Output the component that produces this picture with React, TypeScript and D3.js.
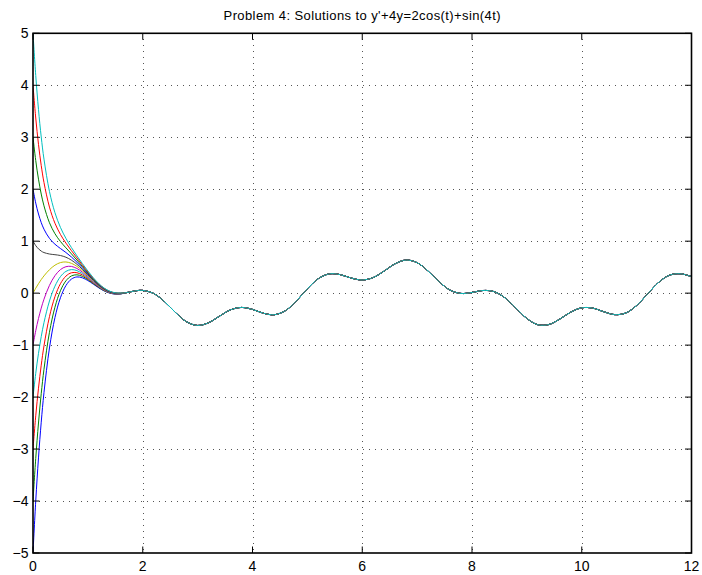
import React from "react";
import * as d3 from "d3";

const TITLE = "Problem 4: Solutions to y'+4y=2cos(t)+sin(4t)";
const X_TICKS = [0, 2, 4, 6, 8, 10, 12];
const Y_TICKS = [-5, -4, -3, -2, -1, 0, 1, 2, 3, 4, 5];
const INITIAL_VALUES = [-5, -4, -3, -2, -1, 0, 1, 2, 3, 4, 5];
const COLORS = ["#0000ff", "#008000", "#ff0000", "#00bfbf", "#bf00bf", "#bfbf00", "#404040"];

// time samples of the transient part (curves differ here)
const T_HEAD = [0, 0.05, 0.1, 0.15, 0.2, 0.3, 0.4, 0.5, 0.6, 0.7, 0.8, 0.9, 1.0, 1.1, 1.2, 1.3, 1.4, 1.5, 1.6];
const HEAD_M5 = [-5, -3.998, -3.17, -2.483, -1.915, -1.055, -0.471, -0.088, 0.146, 0.27, 0.312, 0.295, 0.242, 0.172, 0.101, 0.041, 0.0, -0.018, -0.015];
const HEAD_M4 = [-4, -3.18, -2.499, -1.935, -1.465, -0.753, -0.27, 0.047, 0.237, 0.331, 0.353, 0.323, 0.261, 0.184, 0.109, 0.046, 0.004, -0.015, -0.013];
const HEAD_M3 = [-3, -2.361, -1.829, -1.386, -1.016, -0.452, -0.068, 0.182, 0.328, 0.392, 0.393, 0.35, 0.279, 0.197, 0.117, 0.052, 0.008, -0.013, -0.011];
const HEAD_M2 = [-2, -1.542, -1.159, -0.837, -0.567, -0.151, 0.134, 0.318, 0.419, 0.453, 0.434, 0.377, 0.297, 0.209, 0.125, 0.057, 0.011, -0.01, -0.01];
const HEAD_M1 = [-1, -0.723, -0.488, -0.288, -0.117, 0.15, 0.336, 0.453, 0.509, 0.514, 0.475, 0.405, 0.316, 0.221, 0.134, 0.063, 0.015, -0.008, -0.008];
const HEAD_0 = [0, 0.095, 0.182, 0.261, 0.332, 0.451, 0.538, 0.588, 0.6, 0.574, 0.516, 0.432, 0.334, 0.234, 0.142, 0.068, 0.019, -0.005, -0.006];
const HEAD_P1 = [1, 0.914, 0.852, 0.809, 0.781, 0.753, 0.74, 0.724, 0.691, 0.635, 0.556, 0.459, 0.352, 0.246, 0.15, 0.074, 0.022, -0.003, -0.005];
const HEAD_P2 = [2, 1.733, 1.523, 1.358, 1.231, 1.054, 0.942, 0.859, 0.782, 0.696, 0.597, 0.487, 0.371, 0.258, 0.158, 0.079, 0.026, 0.0, -0.003];
const HEAD_P3 = [3, 2.551, 2.193, 1.907, 1.68, 1.355, 1.144, 0.994, 0.872, 0.757, 0.638, 0.514, 0.389, 0.27, 0.167, 0.085, 0.03, 0.002, -0.001];
const HEAD_P4 = [4, 3.37, 2.863, 2.456, 2.129, 1.656, 1.346, 1.13, 0.963, 0.818, 0.679, 0.541, 0.407, 0.283, 0.175, 0.09, 0.034, 0.005, 0.0];
const HEAD_P5 = [5, 4.189, 3.533, 3.005, 2.579, 1.957, 1.548, 1.265, 1.054, 0.878, 0.719, 0.569, 0.426, 0.295, 0.183, 0.096, 0.037, 0.007, 0.002];

// shared steady part (all curves coincide here)
const T_TAIL = [1.7, 1.8, 1.9, 2.0, 2.2, 2.4, 2.6, 2.8, 3.0, 3.2, 3.4, 3.6, 3.8, 4.0, 4.2, 4.4, 4.6, 4.8, 5.0, 5.2, 5.4, 5.6, 5.8, 6.0, 6.2, 6.4, 6.6, 6.8, 7.0, 7.2, 7.4, 7.6, 7.8, 8.0, 8.2, 8.4, 8.6, 8.8, 9.0, 9.2, 9.4, 9.6, 9.8, 10.0, 10.2, 10.4, 10.6, 10.8, 11.0, 11.2, 11.4, 11.6, 11.8, 12.0];
const Y_TAIL = [0.009, 0.031, 0.049, 0.053, -0.007, -0.166, -0.376, -0.552, -0.622, -0.569, -0.442, -0.321, -0.275, -0.313, -0.387, -0.415, -0.337, -0.151, 0.084, 0.279, 0.371, 0.356, 0.29, 0.253, 0.3, 0.426, 0.566, 0.637, 0.586, 0.425, 0.221, 0.058, -0.006, 0.013, 0.051, 0.03, -0.09, -0.288, -0.488, -0.608, -0.604, -0.499, -0.365, -0.282, -0.288, -0.357, -0.413, -0.383, -0.238, -0.015, 0.206, 0.346, 0.373, 0.318];

const HEADS = [HEAD_M5, HEAD_M4, HEAD_M3, HEAD_M2, HEAD_M1, HEAD_0, HEAD_P1, HEAD_P2, HEAD_P3, HEAD_P4, HEAD_P5];

const W = 702;
const H = 575;
const L = 33;
const R = 691.5;
const TOP = 33.3;
const BOT = 553;

export default function App() {
  const x = d3.scaleLinear().domain([0, 12]).range([L, R]);
  const y = d3.scaleLinear().domain([-5, 5]).range([BOT, TOP]);
  const line = d3
    .line<[number, number]>()
    .x((d) => x(d[0]))
    .y((d) => y(d[1]))
    .curve(d3.curveCatmullRom.alpha(0.5));

  const series = INITIAL_VALUES.map((v, k) => {
    const pts: [number, number][] = T_HEAD.map((t, i) => [t, HEADS[k][i]] as [number, number]).concat(
      T_TAIL.map((t, i) => [t, Y_TAIL[i]] as [number, number])
    );
    return { v, pts, color: COLORS[k % COLORS.length] };
  });

  const tickLen = 6.5;
  const font = "'Liberation Sans', Arial, Helvetica, sans-serif";

  return (
    <div style={{ position: "absolute", left: 0, top: 0 }}>
      <svg width={W} height={H} style={{ display: "block", background: "#fff" }}>
        <defs>
          <clipPath id="plotclip">
            <rect x={L} y={TOP} width={R - L} height={BOT - TOP} />
          </clipPath>
        </defs>
        <rect x={0} y={0} width={W} height={H} fill="#fff" />
        {/* grid */}
        <g stroke="#555" strokeWidth={1} strokeDasharray="1,5" shapeRendering="crispEdges">
          {X_TICKS.filter((t) => t > 0 && t < 12).map((t) => (
            <line key={"gx" + t} x1={Math.round(x(t)) + 0.5} x2={Math.round(x(t)) + 0.5} y1={TOP} y2={BOT} />
          ))}
          {Y_TICKS.filter((t) => t > -5 && t < 5).map((t) => (
            <line key={"gy" + t} x1={L} x2={R} y1={Math.round(y(t)) + 0.5} y2={Math.round(y(t)) + 0.5} />
          ))}
        </g>
        {/* curves */}
        <g clipPath="url(#plotclip)" fill="none" strokeWidth={1}>
          {series.map((s) => (
            <path key={s.v} d={line(s.pts) || ""} stroke={s.color} />
          ))}
        </g>
        {/* ticks */}
        <g stroke="#000" strokeWidth={1}>
          {X_TICKS.map((t) => (
            <g key={"tx" + t}>
              <line x1={x(t)} x2={x(t)} y1={BOT} y2={BOT - tickLen} />
              <line x1={x(t)} x2={x(t)} y1={TOP} y2={TOP + tickLen} />
            </g>
          ))}
          {Y_TICKS.map((t) => (
            <g key={"ty" + t}>
              <line x1={L} x2={L + tickLen} y1={y(t)} y2={y(t)} />
              <line x1={R} x2={R - tickLen} y1={y(t)} y2={y(t)} />
            </g>
          ))}
        </g>
        {/* box */}
        <rect x={L} y={TOP} width={R - L} height={BOT - TOP} fill="none" stroke="#000" strokeWidth={1.6} />
        {/* tick labels */}
        <g fontFamily={font} fontSize={14} fill="#000">
          {X_TICKS.map((t) => (
            <text key={"lx" + t} x={x(t)} y={571} textAnchor="middle">
              {t < 0 ? "\u2212" + Math.abs(t) : String(t)}
            </text>
          ))}
          {Y_TICKS.map((t) => (
            <text key={"ly" + t} x={28.5} y={y(t)} dy="0.36em" textAnchor="end">
              {t < 0 ? "\u2212" + Math.abs(t) : String(t)}
            </text>
          ))}
        </g>
        <text
          x={(L + R) / 2}
          y={20}
          textAnchor="middle"
          fontFamily={font}
          fontSize={13}
          letterSpacing={0.4}
          fill="#000"
        >
          {TITLE}
        </text>
      </svg>
    </div>
  );
}
